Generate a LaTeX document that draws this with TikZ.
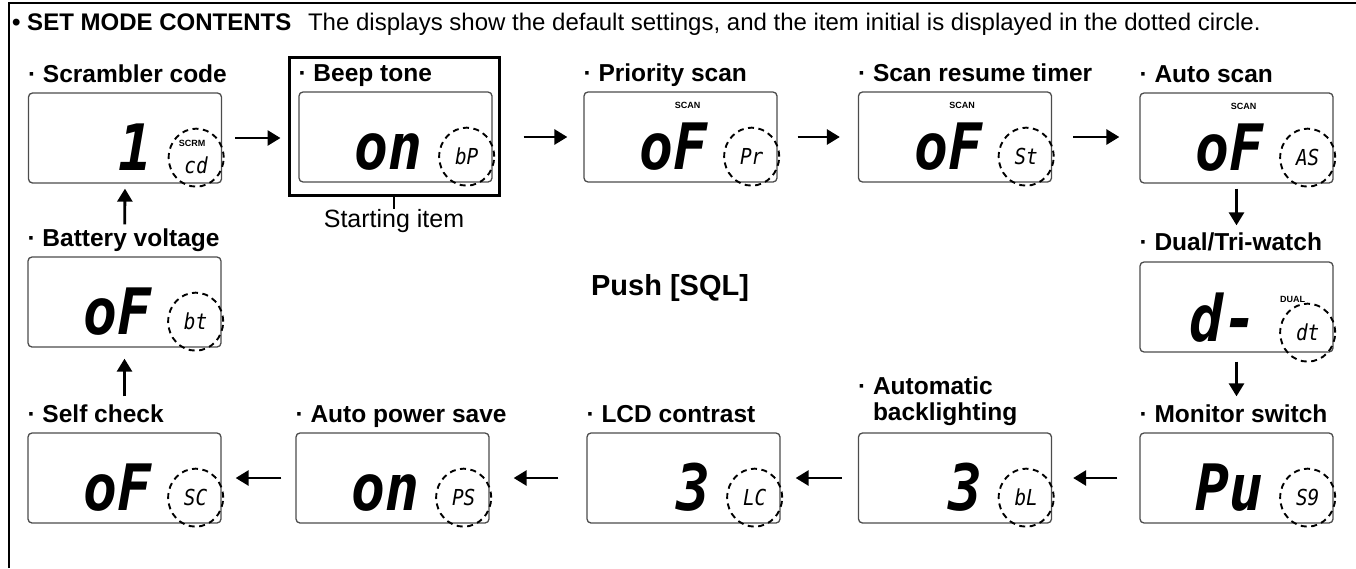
\documentclass[tikz,border=0pt]{standalone}
\usepackage{fontspec}
\setmainfont{Liberation Sans}
\newfontfamily\segfont[FakeStretch=0.88]{DejaVu Sans Mono}
\usetikzlibrary{arrows.meta, positioning, calc, shapes.geometric}

% one lcd panel: name, centre, digits, item initial, heading
\newcommand{\lcdpanel}[5]{%
  \node[lcd] (#1) at (#2) {};
  \node[digits, anchor=base east] (#1-d) at ([xshift=-70pt, yshift=13pt]#1.south east) {#3};
  \node[initial] (#1-c) at ([xshift=-26pt, yshift=26pt]#1.south east) {};
  \node[code] (#1-i) at (#1-c) {#4};
  \node[item, anchor=base west] (#1-h) at ([yshift=10pt]#1.north west) {#5};
}

\begin{document}
\begin{tikzpicture}[x=1pt, y=-1pt,
	lcd/.style={draw=black!70, line width=1.3pt, rounded corners=4pt, minimum width=193pt, minimum height=90pt, inner sep=0pt},
	item/.style={font=\fontsize{24.5}{26}\selectfont\bfseries, inner sep=0pt, align=left},
	digits/.style={font=\segfont\fontsize{64}{64}\selectfont\bfseries\itshape, inner sep=0pt},
	code/.style={font=\segfont\fontsize{22}{22}\selectfont\itshape, inner sep=0pt},
	initial/.style={draw, ellipse, dash pattern=on 6pt off 4.5pt, line width=1.9pt, minimum width=55pt, minimum height=58pt, inner sep=0pt},
	tag/.style={font=\fontsize{9}{9}\selectfont\bfseries, inner sep=0pt},
	flow/.style={line width=2.8pt, -{Triangle[length=13pt, width=15pt]}},
]
\useasboundingbox (0,0) rectangle (1356,568);
\draw[line width=2pt] (9,568) -- (9,3) -- (1356,3);

\node[anchor=base west, inner sep=0pt, font=\fontsize{24}{28}\selectfont] (title) at (12,30)
	{\textbf{• SET MODE CONTENTS}\hspace{0.7em}The displays show the default settings, and the item initial is displayed in the dotted circle.};

% top row
\lcdpanel{scrm}{125,138}{1}{}{·\ Scrambler code}
\node[tag] (scrm-t) at ([xshift=-4pt, yshift=14pt]scrm-c) {SCRM};
\node[code] (scrm-i) at ([yshift=-8pt]scrm-c) {cd};

\node[draw, line width=3pt, minimum width=210pt, minimum height=138pt, inner sep=0pt] (start) at (394,126) {};
\lcdpanel{beep}{395.5,137}{on}{bP}{·\ Beep tone}
\node[font=\fontsize{25}{28}\selectfont, inner sep=0pt, anchor=north] (startlbl) at (394,209) {Starting item};
\draw[line width=1.8pt] (start.south) -- (startlbl.north);

\lcdpanel{prio}{680.5,137}{oF}{Pr}{·\ Priority scan}
\lcdpanel{timer}{955,137}{oF}{St}{·\ Scan resume timer}
\lcdpanel{auto}{1236.5,138}{oF}{AS}{·\ Auto scan}
\foreach \p in {prio, timer, auto}
	\node[tag] at ([xshift=7pt, yshift=-14pt]\p.north) {SCAN};

% right column
\node[lcd] (dual) at (1236.5,307) {};
\node[digits, anchor=base east] (dual-d) at ([xshift=-76pt, yshift=11pt]dual.south east) {d-};
\node[initial] (dual-c) at ([xshift=-26pt, yshift=20pt]dual.south east) {};
\node[code] (dual-i) at (dual-c) {dt};
\node[tag] (dual-t) at ([xshift=-41pt, yshift=-38pt]dual.north east) {DUAL};
\node[item, anchor=base west] (dual-h) at ([yshift=11pt]dual.north west) {·\ Dual/Tri-watch};

% bottom row
\node[lcd] (mon) at (1236.5,478) {};
\node[digits, anchor=base east] (mon-d) at ([xshift=-70pt, yshift=13pt]mon.south east) {Pu};
\node[initial] (mon-c) at ([xshift=-26pt, yshift=26pt]mon.south east) {};
\node[code] (mon-i) at (mon-c) {S9};
\node[item, anchor=base west] (mon-h) at ([yshift=10pt]mon.north west) {·\ Monitor switch};

\node[lcd] (bkl) at (955,478) {};
\node[digits, anchor=base east] (bkl-d) at ([xshift=-70pt, yshift=13pt]bkl.south east) {3};
\node[initial] (bkl-c) at ([xshift=-26pt, yshift=26pt]bkl.south east) {};
\node[code] (bkl-i) at (bkl-c) {bL};
\node[item, anchor=south west] (bkl-h) at ([yshift=6pt]bkl.north west) {·\ Automatic\\\phantom{·\ }backlighting};

\lcdpanel{lcdc}{683.5,478}{3}{LC}{·\ LCD contrast}
\lcdpanel{apo}{392.5,478}{on}{PS}{·\ Auto power save}
\lcdpanel{self}{124.5,478}{oF}{SC}{·\ Self check}

% left column
\lcdpanel{batt}{124.5,302}{oF}{bt}{·\ Battery voltage}

\node[font=\fontsize{29}{32}\selectfont\bfseries, inner sep=0pt] (push) at (670,288) {Push [SQL]};

% sequence
\draw[flow, shorten <=13pt, shorten >=7pt] (scrm.east) -- (scrm.east -| start.west);
\draw[flow, shorten <=23pt, shorten >=16pt] (beep.east -| start.east) -- (prio.west);
\draw[flow, shorten <=20pt, shorten >=18pt] (prio.east) -- (timer.west);
\draw[flow, shorten <=21pt, shorten >=20pt] (timer.east) -- (timer.east -| auto.west);
\draw[flow, shorten <=5pt, shorten >=36pt] (auto.south) -- (dual.north);
\draw[flow, shorten <=9pt, shorten >=36pt] (dual.south) -- (mon.north);
\draw[flow, shorten <=22pt, shorten >=21pt] (mon.west) -- (bkl.east);
\draw[flow, shorten <=16pt, shorten >=15pt] (bkl.west) -- (lcdc.east);
\draw[flow, shorten <=28pt, shorten >=24pt] (lcdc.west) -- (apo.east);
\draw[flow, shorten <=14pt, shorten >=14pt] (apo.west) -- (self.east);
\draw[flow, shorten <=36pt, shorten >=11pt] (self.north) -- (batt.south);
\draw[flow, shorten <=32pt, shorten >=5pt] (batt.north) -- (scrm.south);
\end{tikzpicture}
\end{document}
